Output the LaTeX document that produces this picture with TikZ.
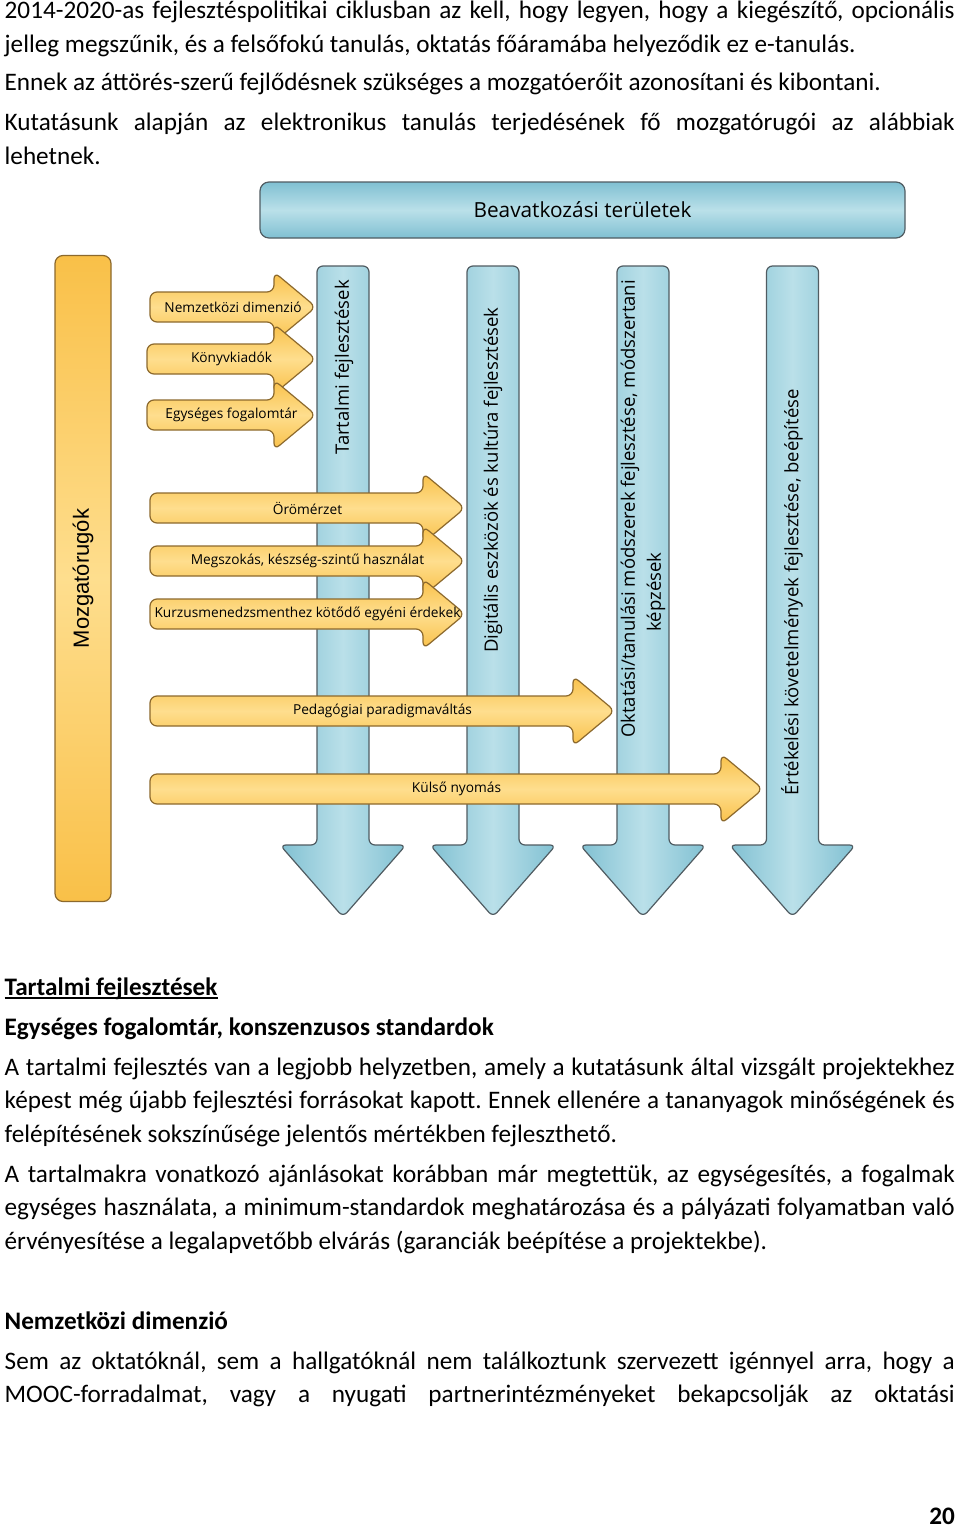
\documentclass[tikz,border=0pt]{standalone}
\usepackage{fontspec}
\setmainfont{Carlito}
\newfontfamily\diagfont{Open Sans}
\newfontfamily\mozfont{Liberation Sans}
\usetikzlibrary{positioning}
\hyphenpenalty=10000
\exhyphenpenalty=10000
\tolerance=9999
\frenchspacing
\definecolor{bluedk}{RGB}{128,192,210}
\definecolor{bluelt}{RGB}{186,224,233}
\definecolor{bluebd}{RGB}{80,92,98}
\definecolor{yeldk}{RGB}{249,192,72}
\definecolor{yellt}{RGB}{254,222,142}
\definecolor{yelbd}{RGB}{140,105,45}
\newcommand{\bodyfont}{\fontsize{25.2bp}{33.5bp}\selectfont}
\newcommand{\vlabfont}{\diagfont\fontsize{18.5bp}{26bp}\selectfont}
\newcommand{\alabfont}{\diagfont\fontsize{13.7bp}{16bp}\selectfont}
\newcommand{\ulined}[1]{\setbox0\hbox{#1}\rlap{\rule[-3.5bp]{\wd0}{1.5bp}}\box0}
\tikzset{
    parsty/.style={anchor=base west,inner sep=0pt,text width=950bp,align=justify,font=\bodyfont},
    headsty/.style={anchor=base west,inner sep=0pt,font=\bodyfont\bfseries},
    bannersty/.style={draw=bluebd,line width=1.2bp,rounded corners=9bp,top color=bluedk,bottom color=bluedk,middle color=bluelt,font=\diagfont\fontsize{20.8bp}{26bp}\selectfont},
    mozsty/.style={draw=yelbd,line width=1.2bp,rounded corners=8bp,top color=yeldk,bottom color=yeldk,middle color=yellt,font=\mozfont\fontsize{22bp}{26bp}\selectfont},
    downsty/.style={draw=bluebd,line width=1.2bp,rounded corners=6bp,left color=bluedk,right color=bluedk,middle color=bluelt},
    rightsty/.style={draw=yelbd,line width=1.2bp,rounded corners=7bp,top color=yeldk,bottom color=yeldk,middle color=yellt},
    vlabsty/.style={rotate=90,inner sep=0pt,font=\vlabfont},
    alabsty/.style={inner sep=0pt,font=\alabfont},
}
% blue arrow pointing down, #1 = centre x
\newcommand{\downarr}[1]{
  \path[downsty] (#1-26,266) -- (#1+26,266) -- (#1+26,845) -- (#1+63,845) -- (#1,917)
    -- (#1-63,845) -- (#1-26,845) -- cycle;}
% yellow arrow pointing right: name, left x, tip x, centre y, text
\newcommand{\rightarr}[5]{
  \path[rightsty] (#2,#4-15) -- (#3-42,#4-15) -- (#3-42,#4-35) -- (#3,#4) -- (#3-42,#4+35)
    -- (#3-42,#4+15) -- (#2,#4+15) -- cycle;
  \node[alabsty] (#1) at ({(#2+#3)/2},#4) {#5};}

\begin{document}
\begin{tikzpicture}[x=1bp,y=-1bp]
  \fill[white] (0,0) rectangle (960,1529);
  \useasboundingbox (0,0) rectangle (960,1529);

  \node[parsty] (intro) at (4.5,19) {2014-2020-as fejlesztéspolitikai ciklusban az kell, hogy legyen, hogy a kiegészítő, opcionális\linebreak jelleg megszűnik, és a felsőfokú tanulás, oktatás főáramába helyeződik ez e-tanulás.};
  \node[parsty] (breakthr) at (4.5,91) {Ennek az áttörés-szerű fejlődésnek szükséges a mozgatóerőit azonosítani és kibontani.};
  \node[parsty] (research) at (4.5,131) {Kutatásunk alapján az elektronikus tanulás terjedésének fő mozgatórugói az alábbiak\linebreak lehetnek.};

  % diagram
  \node[bannersty,minimum width=645bp,minimum height=56bp] (areas) at (582.5,210) {Beavatkozási területek};
  \node[mozsty,rotate=90,minimum width=646bp,minimum height=56bp] (drivers) at (83,578.5) {Mozgatórugók};

  \downarr{343}
  \downarr{493}
  \downarr{643}
  \downarr{792.5}

  \node[vlabsty] (content) at (344,367.5) {Tartalmi fejlesztések};
  \node[vlabsty] (digital) at (493,480) {Digitális eszközök és kultúra fejlesztések};
  \node[vlabsty] (methodsa) at (630,509) {Oktatási/tanulási módszerek fejlesztése, módszertani};
  \node[vlabsty] (methodsb) at (656,592) {képzések};
  \node[vlabsty] (assess) at (792,592.5) {Értékelési követelmények fejlesztése, beépítése};

  \rightarr{intl}{150}{316}{307}{Nemzetközi dimenzió}
  \rightarr{publ}{147}{316}{359}{Könyvkiadók}
  \rightarr{vocab}{147}{316}{415}{Egységes fogalomtár}
  \rightarr{joy}{150}{465}{508}{Örömérzet}
  \rightarr{habit}{150}{465}{561}{Megszokás, készség-szintű használat}
  \rightarr{lms}{150}{465}{614}{Kurzusmenedzsmenthez kötődő egyéni érdekek}
  \rightarr{pedag}{150}{615}{711}{Pedagógiai paradigmaváltás}
  \rightarr{extern}{150}{763}{789}{Külső nyomás}

  % text below
  \node[headsty] (headcont) at (4.5,995) {\ulined{Tartalmi fejlesztések}};
  \node[headsty] (headvocab) at (4.5,1035) {Egységes fogalomtár, konszenzusos standardok};
  \node[parsty] (contpara) at (4.5,1075) {A tartalmi fejlesztés van a legjobb helyzetben, amely a kutatásunk által vizsgált projektekhez\linebreak képest még újabb fejlesztési forrásokat kapott. Ennek ellenére a tananyagok minőségének és\linebreak felépítésének sokszínűsége jelentős mértékben fejleszthető.};
  \node[parsty] (recpara) at (4.5,1182) {A tartalmakra vonatkozó ajánlásokat korábban már megtettük, az egységesítés, a fogalmak\linebreak egységes használata, a minimum-standardok meghatározása és a pályázati folyamatban való\linebreak érvényesítése a legalapvetőbb elvárás (garanciák beépítése a projektekbe).};
  \node[headsty] (headintl) at (4.5,1329) {Nemzetközi dimenzió};
  \node[parsty] (intlpara) at (4.5,1369) {\parfillskip=0pt Sem az oktatóknál, sem a hallgatóknál nem találkoztunk szervezett igénnyel arra, hogy a\linebreak MOOC-forradalmat, vagy a nyugati partnerintézményeket bekapcsolják az oktatási\par};
  \node[headsty,anchor=base east] (pagenum) at (955,1524) {20};
\end{tikzpicture}
\end{document}
